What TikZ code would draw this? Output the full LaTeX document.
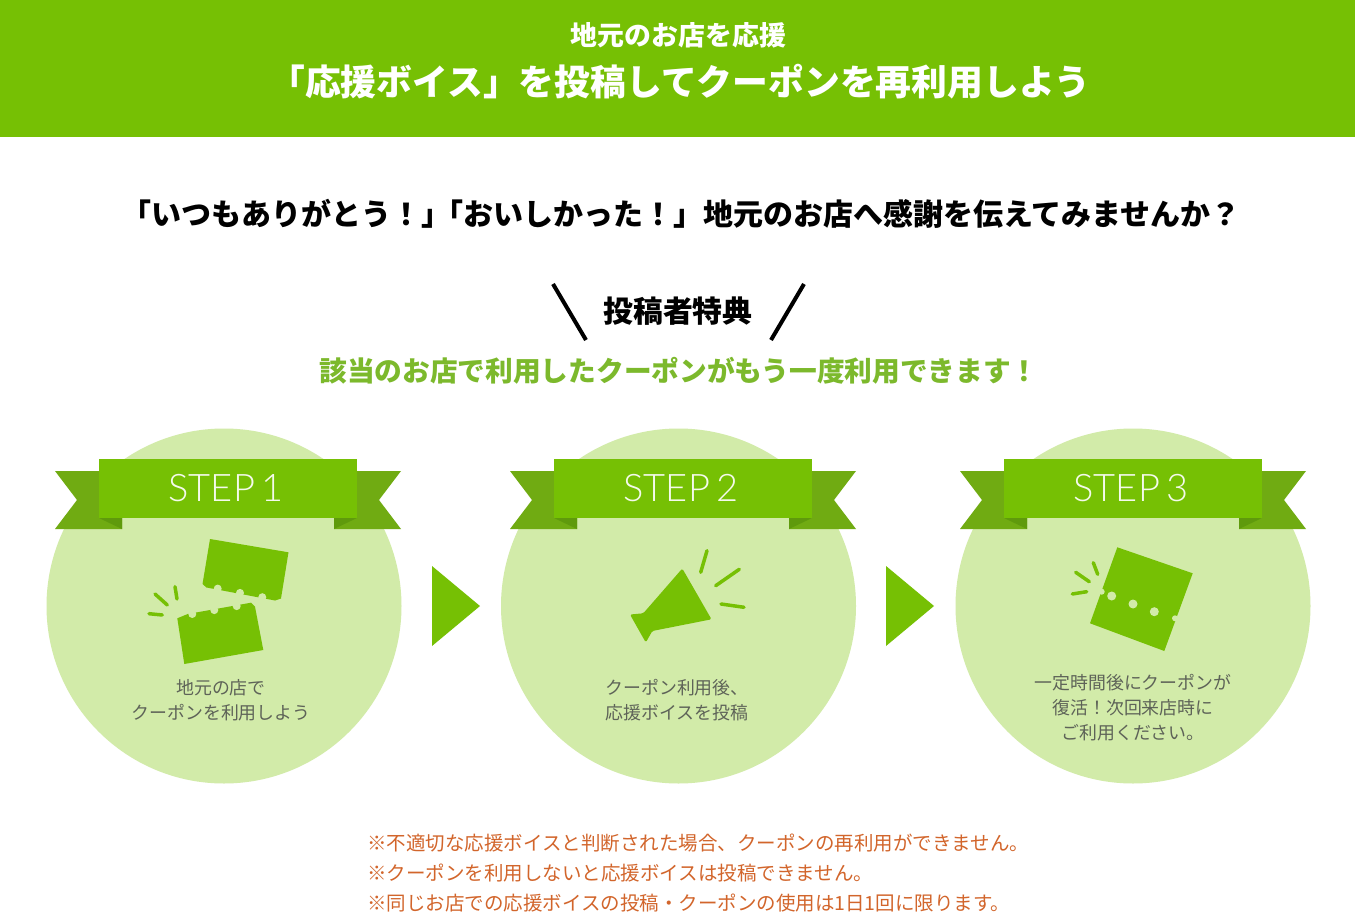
\documentclass[tikz,border=0pt]{standalone}
\usepackage{fontspec}
\setmainfont{Noto Sans CJK JP}
\newfontfamily\stepfont[UprightFont=* Light]{Lato}
\usepackage{tikz}
\usetikzlibrary{positioning}

\definecolor{leaf}{HTML}{76C004}
\definecolor{disc}{HTML}{D2EBA9}
\definecolor{tail}{HTML}{70AB12}
\definecolor{fold}{HTML}{5F9A0C}
\definecolor{lead}{HTML}{7CB92C}
\definecolor{note}{HTML}{D2652B}
\definecolor{body}{HTML}{5E6358}

\tikzset{
  headline/.style={inner sep=0pt,font=\bfseries\fontsize{#1}{#1}\selectfont},
  stepdisc/.style={circle,fill=disc,minimum size=355pt,inner sep=0pt},
  ribbon/.style={fill=leaf,text=white!92!leaf,minimum width=258pt,minimum height=59pt,inner sep=0pt,
    font=\stepfont\fontsize{38}{38}\selectfont},
  caption/.style={inner sep=0pt,text=body,align=center,font=\fontsize{17.9}{25}\selectfont},
  warn/.style={inner sep=0pt,anchor=west,text=note,font=\fontsize{19.5}{19.5}\selectfont},
  spark/.style={draw=leaf,line width=3.5pt,line cap=round},
  pointer/.style={fill=leaf}
}

\begin{document}
\begin{tikzpicture}[x=1pt,y=-1pt]
  \useasboundingbox (0,0) rectangle (1355,923);
  \fill[white] (0,0) rectangle (1355,923);
  \fill[leaf] (0,0) rectangle (1355,137);

  \node[headline=26.9,text=white] (sub) at (678.5,35) {地元のお店を応援};
  \node[headline=35.8,text=white] (title) at (680,82) {「応援ボイス」を投稿してクーポンを再利用しよう};
  \node[headline=30] (thanks) at (681,214) {「いつもありがとう！」\kern-18pt「おいしかった！」地元のお店へ感謝を伝えてみませんか？};
  \node[headline=29.9] (perk) at (678,311) {投稿者特典};
  \node[headline=27.7,text=lead] (lead) at (679,371) {該当のお店で利用したクーポンがもう一度利用できます！};
  \coordinate (sl1) at (553,284);
  \coordinate (sl2) at (586,340);
  \coordinate (sr1) at (804,284);
  \coordinate (sr2) at (771,340);
  \draw[line width=4pt] (sl1) -- (sl2);
  \draw[line width=4pt] (sr1) -- (sr2);

  % discs and ribbons
  \foreach \cx/\rx/\n in {224/228/1,678.5/683/2,1133/1133/3} {
    \node[stepdisc] (disc\n) at (\cx,606) {};
    \begin{scope}[shift={(\rx,0)}]
      \fill[tail] (-173,471) -- (-151,500) -- (-173,529) -- (-106,529) -- (-106,471) -- cycle;
      \fill[tail] (173,471) -- (151,500) -- (173,529) -- (106,529) -- (106,471) -- cycle;
      \fill[fold] (-129,518) -- (-106,518) -- (-106,529) -- cycle;
      \fill[fold] (129,518) -- (106,518) -- (106,529) -- cycle;
      \node[ribbon] (rib\n) at (0,488.5) {STEP\kern-4pt\ \n\kern4pt};
    \end{scope}
  }

  \fill[pointer] (432,566) -- (480,606) -- (432,646) -- cycle;
  \fill[pointer] (886,566) -- (934,606) -- (886,646) -- cycle;

  % torn coupon
  \fill[leaf] (210,539) -- (288.5,552.3) -- (281,598.5) -- (275,600.5) -- (206.5,587.5) -- (202.5,584) -- cycle;
  \fill[leaf] (177.3,618.3) -- (187.7,614) -- (251,602.7) -- (255,606.7) -- (263.3,650) -- (184.3,664) -- cycle;
  \foreach \x/\y in {217.7/588.6,240/592.9,262.3/597.2} \fill[disc] (\x,\y) circle (4);
  \foreach \x/\y in {192.3/614,214.3/610.1,236.7/606.1} \fill[disc] (\x,\y) circle (4);
  \draw[spark] (155,594) -- (167.3,605);
  \draw[spark] (175,586.7) -- (177,599);
  \draw[spark] (149,613.7) -- (162.3,615);

  % megaphone
  \fill[leaf,rounded corners=1.5pt] (682.3,568.5) -- (711.5,619.3) -- (652.3,631) -- (645.8,642.5) -- (630,614.5) -- (643.3,613.3) -- cycle;
  \draw[spark] (707,550.7) -- (700.7,572.3);
  \draw[spark] (739.3,569.3) -- (715.7,585.7);
  \draw[spark] (721,604) -- (744,607.3);

  % restored coupon
  \fill[leaf] (1117.3,547.3) -- (1192.7,573.3) -- (1164.3,651) -- (1090,623.3) -- cycle;
  \foreach \x/\y in {1111.7/596,1133/604,1154.3/611.7} \fill[disc] (\x,\y) circle (4.5);
  \foreach \x/\y in {1101.7/591.7,1175/618.3} \fill[disc] (\x,\y) circle (3);
  \draw[spark] (1075.7,572.3) -- (1089.3,581.7);
  \draw[spark] (1093.3,562.7) -- (1097.7,574.3);
  \draw[spark] (1072.3,594) -- (1086.7,591.7);

  \node[caption] (cap1) at (221,700) {地元の店で\\クーポンを利用しよう};
  \node[caption] (cap2) at (677,700) {クーポン利用後、\\応援ボイスを投稿};
  \node[caption] (cap3) at (1133,708) {一定時間後にクーポンが\\復活！次回来店時に\\ご利用ください。};

  \node[warn] (warn1) at (367,843) {※不適切な応援ボイスと判断された場合、クーポンの再利用ができません。};
  \node[warn] (warn2) at (367,873) {※クーポンを利用しないと応援ボイスは投稿できません。};
  \node[warn] (warn3) at (367,903) {※同じお店での応援ボイスの投稿・クーポンの使用は1日1回に限ります。};
\end{tikzpicture}
\end{document}
